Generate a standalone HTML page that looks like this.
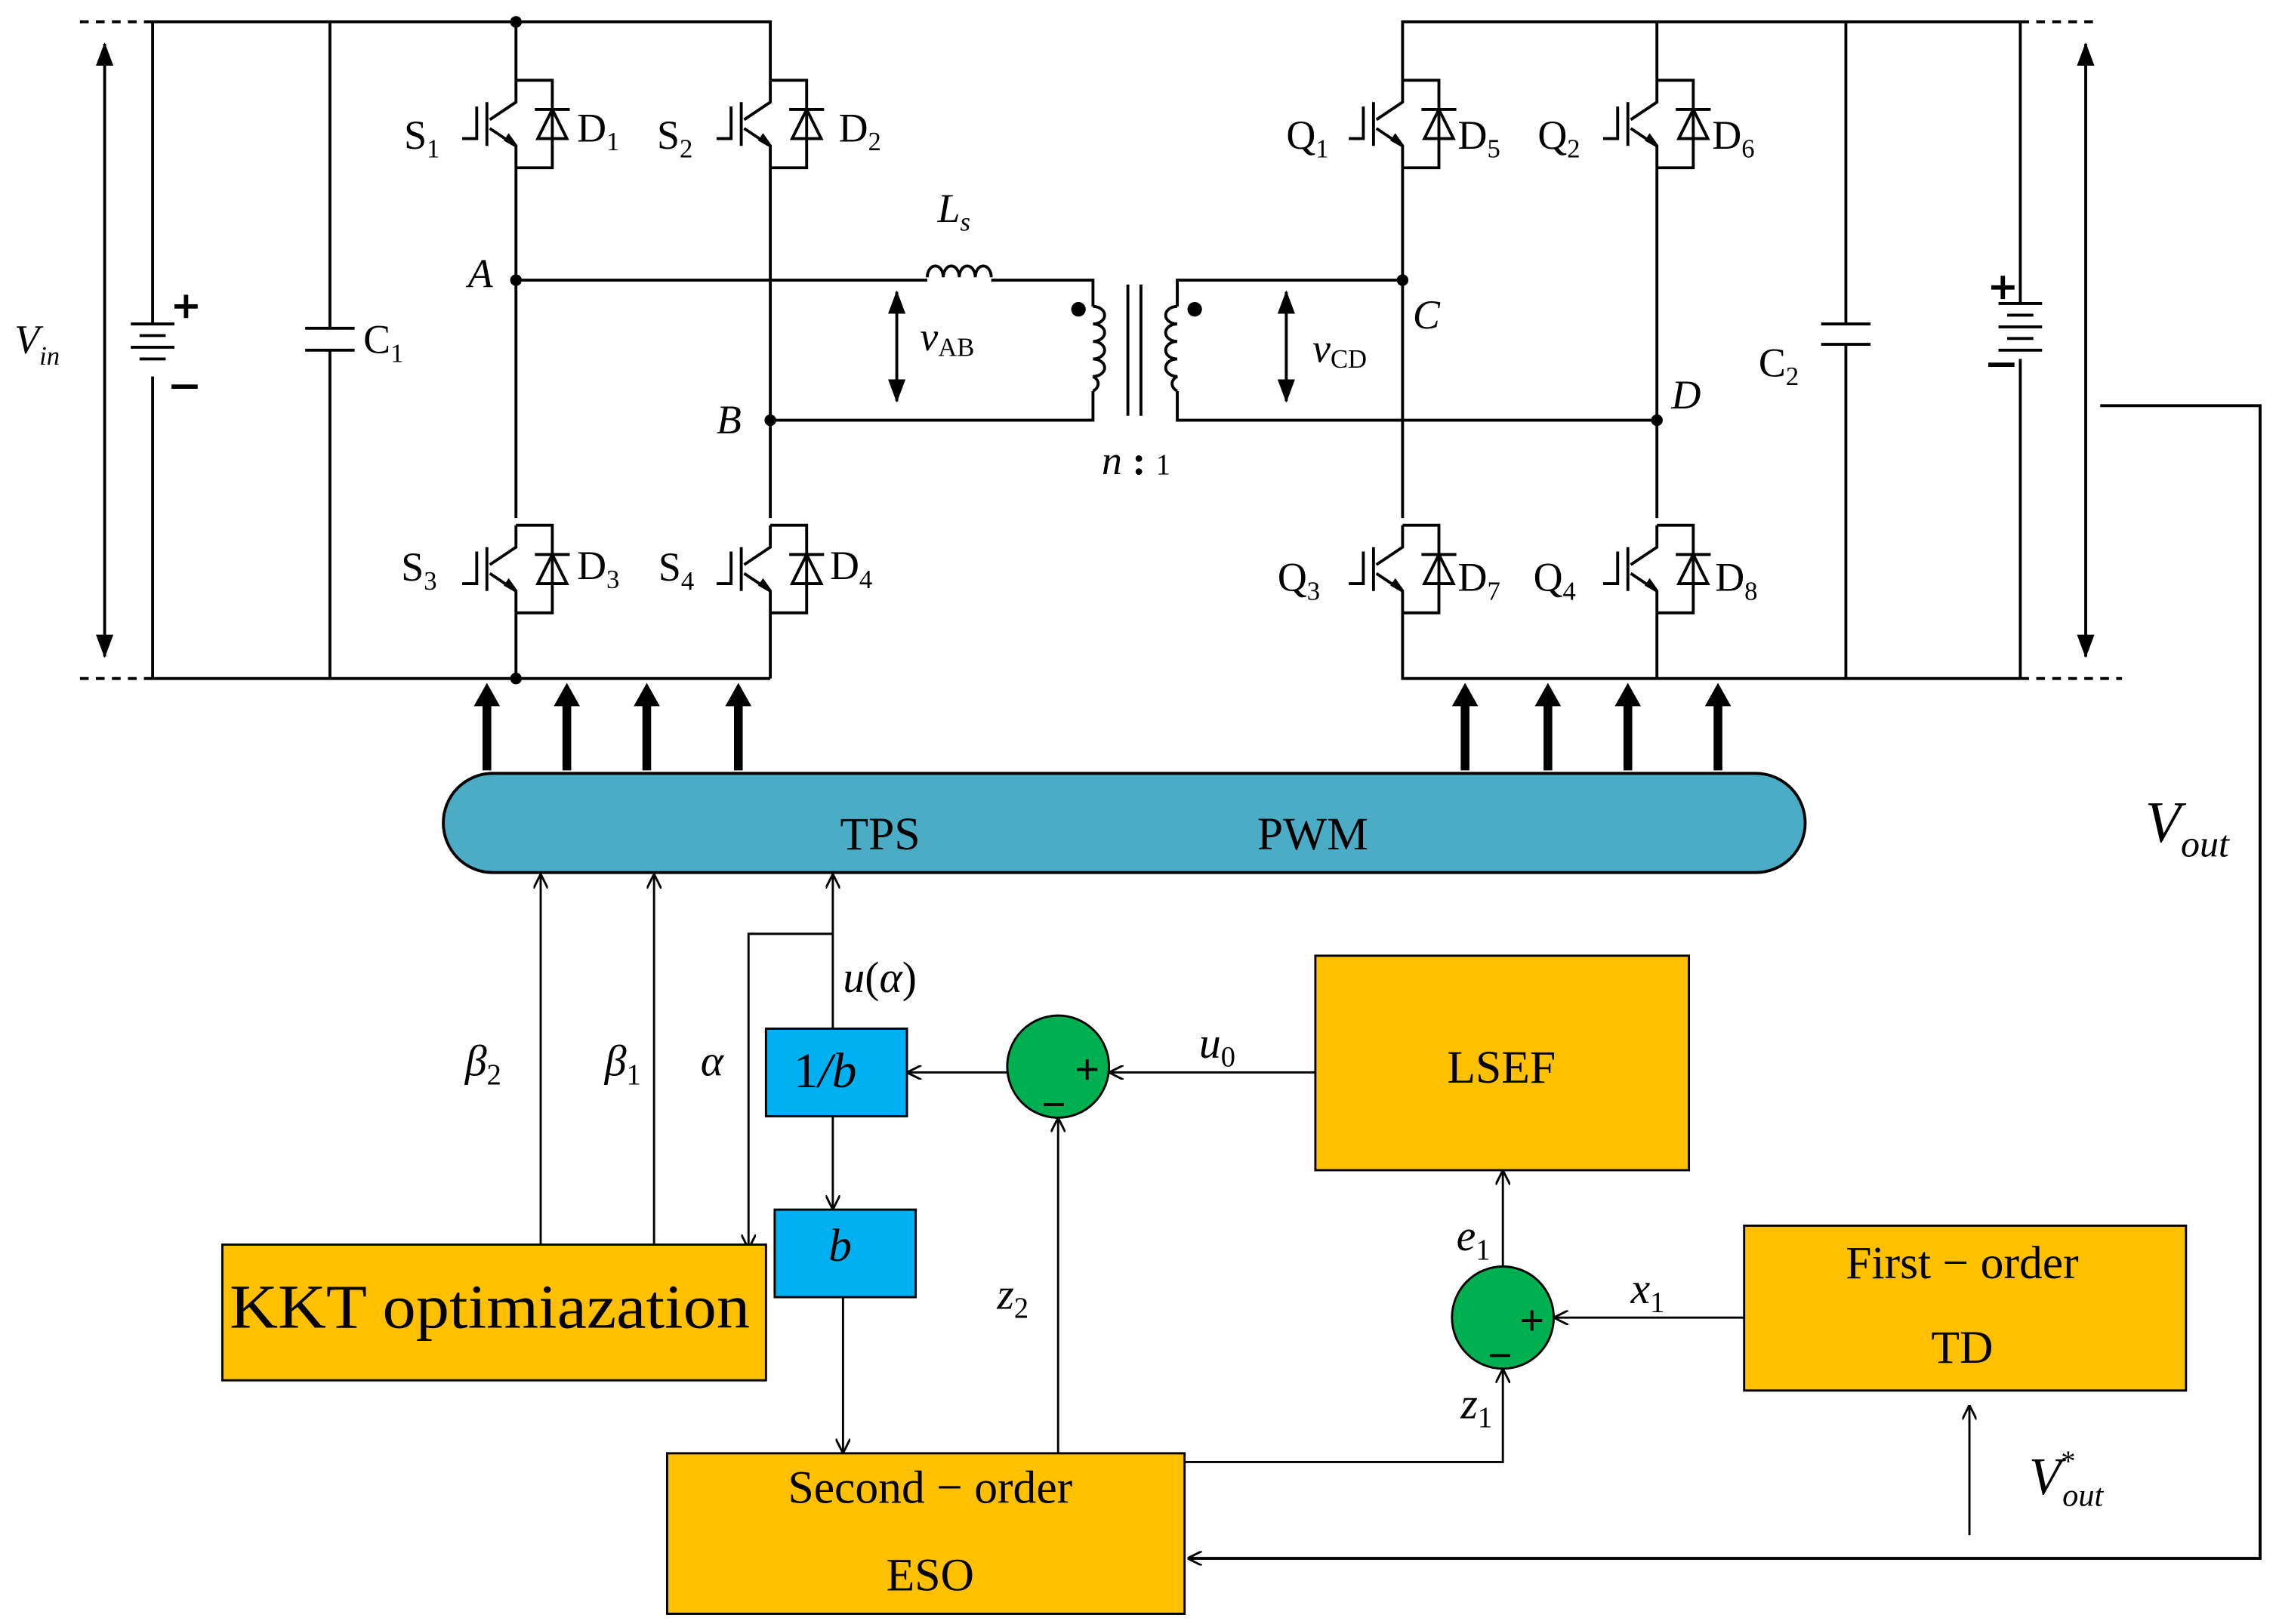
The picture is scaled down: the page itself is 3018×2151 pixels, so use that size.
<!DOCTYPE html>
<html><head><meta charset="utf-8"><style>
html,body{margin:0;padding:0;background:#fff}
svg{display:block}
text{font-family:"Liberation Serif",serif;fill:#000}
</style></head><body>
<svg width="3018" height="2151" viewBox="0 0 1568 1113" preserveAspectRatio="none" xmlns="http://www.w3.org/2000/svg">
<defs>
<marker id="a" markerWidth="10" markerHeight="10" refX="9" refY="5" orient="auto" markerUnits="userSpaceOnUse"><path d="M0,0 L10,5 L0,10" fill="none" stroke="#000" stroke-width="1.5"/></marker>
<marker id="f" markerWidth="16" markerHeight="16" refX="15" refY="8" orient="auto-start-reverse" markerUnits="userSpaceOnUse"><path d="M0,2 L16,8 L0,14 Z" fill="#000"/></marker>
<g id="sw" stroke="#000" stroke-width="2" fill="none">
<path d="M0,0 L25,0 L25,60 L0,60"/>
<path d="M0,0 L0,15 L-18,27 M-18,33 L0,45 L0,60"/>
<path d="M-20,15 L-20,45 M-27,18 L-27,40 L-37,40"/>
<path d="M13,20 L37,20 M25,20 L25,22 M15,40 L35,40 L25,20 Z"/>
<path d="M-7,41 L0,45 L-5,38 Z" fill="#000"/>
</g>
</defs>
<g stroke="#000" stroke-width="2" fill="none">
<path d="M105,15 L530,15 L530,55 M355,15 L355,55 M105,465 L530,465 M355,465 L355,420 M530,465 L530,420"/>
<path d="M55,15 L105,15 M55,465 L105,465 M1390,15 L1440,15 M1390,465 L1460,465" stroke-dasharray="6,5"/>
<path d="M355,115 L355,355 M530,115 L530,355"/>
<path d="M105,15 L105,222 M105,258 L105,465"/>
<path d="M90,222 L120,222 M96,230 L114,230 M90,238 L120,238 M96,246 L114,246"/>
<path d="M227,15 L227,225 M227,240 L227,465 M210,225 L244,225 M210,240 L244,240"/>
<path d="M72,30 L72,450" marker-start="url(#f)" marker-end="url(#f)"/>
<path d="M355,192 L638,192 M682,192 L752,192 L752,210 M530,288 L752,288 L752,268"/>
<path d="M638,190 a5,7 0 0 1 11,0 a5,7 0 0 1 11,0 a5,7 0 0 1 11,0 a5,7 0 0 1 11,0"/>
<path d="M752,210 a8,6 0 0 1 0,12 a8,6 0 0 1 0,12 a8,6 0 0 1 0,12 a8,6 0 0 1 0,12 a8,6 0 0 1 0,10"/>
<path d="M810,210 a8,6 0 0 0 0,12 a8,6 0 0 0 0,12 a8,6 0 0 0 0,12 a8,6 0 0 0 0,12 a8,6 0 0 0 0,10"/>
<path d="M776,195 L776,285 M785,195 L785,285"/>
<path d="M810,210 L810,192 L965,192 M810,268 L810,288 L1140,288"/>
<path d="M617,200 L617,275" marker-start="url(#f)" marker-end="url(#f)"/>
<path d="M885,200 L885,275" marker-start="url(#f)" marker-end="url(#f)"/>
<path d="M965,55 L965,15 L1390,15 M1140,15 L1140,55 M965,115 L965,355 M1140,115 L1140,355 M965,420 L965,465 L1390,465 M1140,420 L1140,465"/>
<path d="M1270,15 L1270,222 M1270,236 L1270,465 M1253,222 L1287,222 M1253,236 L1287,236"/>
<path d="M1390,15 L1390,208 M1390,246 L1390,465 M1375,208 L1405,208 M1381,216 L1399,216 M1375,224 L1405,224 M1381,232 L1399,232 M1375,240 L1405,240"/>
<path d="M1435,30 L1435,450" marker-start="url(#f)" marker-end="url(#f)"/>
<path d="M1445,278 L1555,278 L1555,1068 L818,1068" marker-end="url(#a)"/>
<g stroke-width="6">
<path d="M335,528 L335,478 M390,528 L390,478 M445,528 L445,478 M508,528 L508,478 M1008,528 L1008,478 M1065,528 L1065,478 M1120,528 L1120,478 M1182,528 L1182,478"/>
</g>
<g stroke-width="3">
<path d="M120,210 L136,210 M128,202 L128,218 M118,265 L136,265"/>
<path d="M1370,197 L1386,197 M1378,189 L1378,205 M1368,250 L1386,250"/>
</g>
</g>
<g fill="#000">
<path d="M326,484 L335,468 L344,484Z M381,484 L390,468 L399,484Z M436,484 L445,468 L454,484Z M499,484 L508,468 L517,484Z M999,484 L1008,468 L1017,484Z M1056,484 L1065,468 L1074,484Z M1111,484 L1120,468 L1129,484Z M1173,484 L1182,468 L1191,484Z"/>
<circle cx="355" cy="15" r="4"/><circle cx="355" cy="465" r="4"/><circle cx="355" cy="192" r="4"/><circle cx="530" cy="288" r="4"/><circle cx="965" cy="192" r="4"/><circle cx="1140" cy="288" r="4"/><circle cx="742" cy="212" r="5"/><circle cx="822" cy="212" r="5"/>
</g>
<use href="#sw" x="355" y="55"/><use href="#sw" x="530" y="55"/><use href="#sw" x="355" y="360"/><use href="#sw" x="530" y="360"/>
<use href="#sw" x="965" y="55"/><use href="#sw" x="1140" y="55"/><use href="#sw" x="965" y="360"/><use href="#sw" x="1140" y="360"/>
<g font-size="28">
<text x="278" y="102">S<tspan font-size="18" dy="6">1</tspan></text>
<text x="397" y="97">D<tspan font-size="18" dy="6">1</tspan></text>
<text x="452" y="102">S<tspan font-size="18" dy="6">2</tspan></text>
<text x="577" y="97">D<tspan font-size="18" dy="6">2</tspan></text>
<text x="276" y="398">S<tspan font-size="18" dy="6">3</tspan></text>
<text x="397" y="397">D<tspan font-size="18" dy="6">3</tspan></text>
<text x="453" y="398">S<tspan font-size="18" dy="6">4</tspan></text>
<text x="571" y="397">D<tspan font-size="18" dy="6">4</tspan></text>
<text x="885" y="102">Q<tspan font-size="18" dy="6">1</tspan></text>
<text x="1003" y="102">D<tspan font-size="18" dy="6">5</tspan></text>
<text x="1058" y="102">Q<tspan font-size="18" dy="6">2</tspan></text>
<text x="1178" y="102">D<tspan font-size="18" dy="6">6</tspan></text>
<text x="879" y="405">Q<tspan font-size="18" dy="6">3</tspan></text>
<text x="1003" y="405">D<tspan font-size="18" dy="6">7</tspan></text>
<text x="1055" y="405">Q<tspan font-size="18" dy="6">4</tspan></text>
<text x="1180" y="405">D<tspan font-size="18" dy="6">8</tspan></text>
<text x="250" y="242">C<tspan font-size="18" dy="6">1</tspan></text>
<text x="1210" y="258">C<tspan font-size="18" dy="6">2</tspan></text>
<text x="322" y="197" font-style="italic">A</text>
<text x="493" y="297" font-style="italic">B</text>
<text x="972" y="225" font-style="italic">C</text>
<text x="1150" y="280" font-style="italic">D</text>
<text x="645" y="152" font-style="italic">L<tspan font-size="18" dy="6">s</tspan></text>
<text x="633" y="240" font-style="italic">v<tspan font-size="18" dy="4" font-style="normal">AB</tspan></text>
<text x="903" y="248" font-style="italic">v<tspan font-size="18" dy="4" font-style="normal">CD</tspan></text>
<text x="758" y="325" font-style="italic">n<tspan font-style="normal" font-weight="bold"> : </tspan><tspan font-size="20" font-style="normal">1</tspan></text>
<text x="10" y="242" font-style="italic">V<tspan font-size="18" dy="8">in</tspan></text>
</g>
<text x="1476" y="577" font-size="40" font-style="italic">V<tspan font-size="26" dy="10">out</tspan></text>
<rect x="305" y="530" width="937" height="68" rx="34" fill="#4bacc6" stroke="#000" stroke-width="2"/>
<text x="578" y="582" font-size="32">TPS</text>
<text x="865" y="582" font-size="32">PWM</text>
<g stroke="#000" stroke-width="1.5" fill="none">
<path d="M372,853 L372,600" marker-end="url(#a)"/>
<path d="M450,853 L450,600" marker-end="url(#a)"/>
<path d="M573,705 L573,600" marker-end="url(#a)"/>
<path d="M573,640 L515,640 L515,855" marker-end="url(#a)"/>
<path d="M695,735 L625,735" marker-end="url(#a)"/>
<path d="M905,735 L764,735" marker-end="url(#a)"/>
<path d="M573,765 L573,828" marker-end="url(#a)"/>
<path d="M580,889 L580,995" marker-end="url(#a)"/>
<path d="M728,996 L728,767" marker-end="url(#a)"/>
<path d="M815,1002 L1034,1002 L1034,939" marker-end="url(#a)"/>
<path d="M1034,868 L1034,803" marker-end="url(#a)"/>
<path d="M1200,903 L1070,903" marker-end="url(#a)"/>
<path d="M1355,1052 L1355,964" marker-end="url(#a)"/>
</g>
<rect x="527" y="705" width="97" height="60" fill="#00b0f0" stroke="#000" stroke-width="1.5"/>
<text x="546" y="745" font-size="34" font-style="italic"><tspan font-style="normal">1</tspan>/b</text>
<rect x="533" y="829" width="97" height="60" fill="#00b0f0" stroke="#000" stroke-width="1.5"/>
<text x="570" y="864" font-size="32" font-style="italic">b</text>
<circle cx="728" cy="731" r="35" fill="#00b050" stroke="#000" stroke-width="1.5"/>
<circle cx="1034" cy="903" r="35" fill="#00b050" stroke="#000" stroke-width="1.5"/>
<g stroke="#000" stroke-width="2">
<path d="M741,733 L755,733 M748,726 L748,740 M718,757 L732,757"/>
<path d="M1047,905 L1061,905 M1054,898 L1054,912 M1025,929 L1039,929"/>
</g>
<rect x="905" y="655" width="257" height="147" fill="#ffc000" stroke="#000" stroke-width="1.5"/>
<text x="1033" y="742" font-size="32" text-anchor="middle">LSEF</text>
<rect x="153" y="853" width="374" height="93" fill="#ffc000" stroke="#000" stroke-width="1.5"/>
<text x="337" y="910" font-size="43" text-anchor="middle" textLength="358" lengthAdjust="spacingAndGlyphs">KKT optimiazation</text>
<rect x="459" y="996" width="356" height="110" fill="#ffc000" stroke="#000" stroke-width="1.5"/>
<text x="640" y="1030" font-size="32" text-anchor="middle">Second − order</text>
<text x="640" y="1090" font-size="32" text-anchor="middle">ESO</text>
<rect x="1200" y="840" width="304" height="113" fill="#ffc000" stroke="#000" stroke-width="1.5"/>
<text x="1350" y="876" font-size="32" text-anchor="middle">First − order</text>
<text x="1350" y="934" font-size="32" text-anchor="middle">TD</text>
<g font-size="30" font-style="italic">
<text x="320" y="737">β<tspan font-size="20" dy="6" font-style="normal">2</tspan></text>
<text x="416" y="737">β<tspan font-size="20" dy="6" font-style="normal">1</tspan></text>
<text x="482" y="737">α</text>
<text x="580" y="680">u<tspan font-style="normal">(</tspan>α<tspan font-style="normal">)</tspan></text>
<text x="825" y="725">u<tspan font-size="20" dy="6" font-style="normal">0</tspan></text>
<text x="1002" y="857">e<tspan font-size="20" dy="6" font-style="normal">1</tspan></text>
<text x="1122" y="893">x<tspan font-size="20" dy="6" font-style="normal">1</tspan></text>
<text x="686" y="897">z<tspan font-size="20" dy="6" font-style="normal">2</tspan></text>
<text x="1005" y="972">z<tspan font-size="20" dy="6" font-style="normal">1</tspan></text>
<text x="1396" y="1024" font-size="36">V<tspan font-size="20" dy="-16" font-style="normal">*</tspan><tspan font-size="22" dx="-9" dy="24">out</tspan></text>
</g>
</svg>
</body></html>
